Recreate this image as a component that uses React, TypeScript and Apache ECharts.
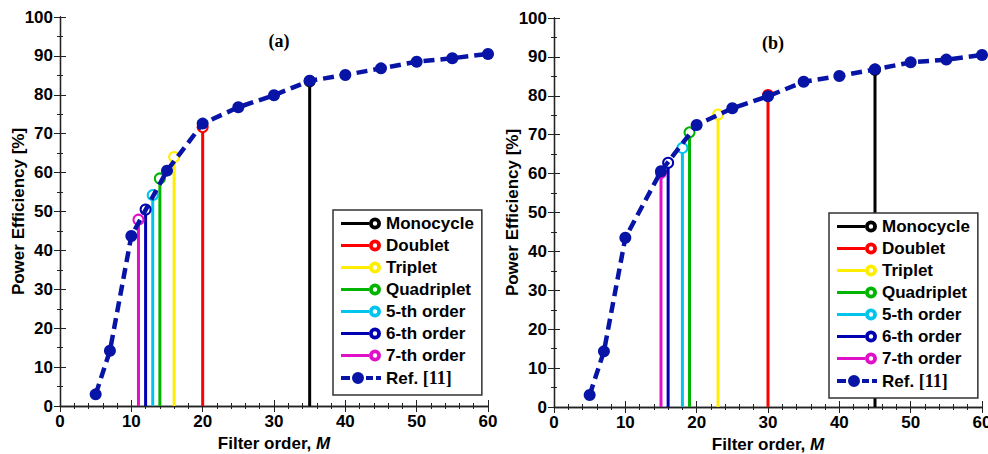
import React, { useEffect, useRef } from "react";
import * as echarts from "echarts";

// ---- data ----
const refOrders = [5, 7, 10, 15, 20, 25, 30, 35, 40, 45, 50, 55, 60];
const refEffA = [3.0, 14.2, 43.7, 60.5, 72.6, 76.8, 79.9, 83.6, 85.1, 86.8, 88.5, 89.4, 90.5];
const refEffB = [3.1, 14.3, 43.5, 60.6, 72.5, 76.8, 79.9, 83.6, 85.1, 86.8, 88.6, 89.3, 90.5];

const pulseNames = ["Monocycle", "Doublet", "Triplet", "Quadriplet", "5-th order", "6-th order", "7-th order"];
const pulseColors = ["#000000", "#ff0000", "#ffee00", "#00b400", "#00c4ec", "#0000b0", "#e010c8"];
const stemOrdersA = [35, 20, 16, 14, 13, 12, 11];
const stemEffA = [83.5, 71.7, 64.0, 58.5, 54.2, 50.5, 47.9];
const stemOrdersB = [45, 30, 23, 19, 18, 16, 15];
const stemEffB = [86.7, 80.2, 75.2, 70.6, 66.6, 62.8, 60.2];

const refName = "Ref. [11]";
const refColor = "#0814a6";
const panelTitles = ["(a)", "(b)"];
const xTicks = { min: 0, max: 60, interval: 10 };
const yTicks = { min: 0, max: 100, interval: 10 };

const SANS = "Liberation Sans, Arial, sans-serif";
const SERIF = "Liberation Serif, Times New Roman, serif";

const stemIcon =
  "path://M0,4.5L28,4.5L28,7.5L0,7.5Z M28,6A6,6,0,1,1,40,6A6,6,0,1,1,28,6Z M31.8,6A2.2,2.2,0,1,0,36.2,6A2.2,2.2,0,1,0,31.8,6Z";
const refIcon =
  "path://M0,4L9,4L9,8L0,8Z M11,6A6,6,0,1,1,23,6A6,6,0,1,1,11,6Z M25,4L32,4L32,8L25,8Z M35,4L40,4L40,8L35,8Z";

function buildOption() {
  const grids = [
    { left: 60, right: 500, top: 17, bottom: 48, outerBoundsMode: "none" },
    { left: 554, right: 6, top: 18, bottom: 47, outerBoundsMode: "none" },
  ];
  const axisLine = { show: true, lineStyle: { color: "#222", width: 1.3 } };
  const tickStyle = { color: "#222", width: 1 };
  const labelStyle = { color: "#000", fontSize: 17, fontWeight: "bold" as const, fontFamily: SANS };

  const xAxis: any[] = [];
  const yAxis: any[] = [];
  grids.forEach((_, g) => {
    xAxis.push({
      gridIndex: g, type: "value", position: "bottom", ...xTicks,
      axisLine, splitLine: { show: false },
      axisTick: { show: true, inside: true, length: 6, lineStyle: tickStyle },
      minorTick: { show: true, splitNumber: 5, length: 3, lineStyle: tickStyle },
      axisLabel: { ...labelStyle, margin: 7 },
      name: "Filter order, {i|M}", nameLocation: "middle", nameGap: 29, nameMoveOverlap: false,
      nameTextStyle: { ...labelStyle, rich: { i: { ...labelStyle, fontStyle: "italic" } } },
    });
    xAxis.push({
      gridIndex: g, type: "value", position: "top", ...xTicks,
      axisLine, splitLine: { show: false },
      axisTick: { show: true, inside: true, length: 6, lineStyle: tickStyle },
      minorTick: { show: true, splitNumber: 5, length: 3, lineStyle: tickStyle },
      axisLabel: { show: false },
    });
    yAxis.push({
      gridIndex: g, type: "value", position: "left", ...yTicks,
      axisLine, splitLine: { show: false },
      axisTick: { show: true, inside: true, length: 6, lineStyle: tickStyle },
      minorTick: { show: true, splitNumber: 2, length: 3, lineStyle: tickStyle },
      axisLabel: { ...labelStyle, margin: 7 },
      name: "Power Efficiency [%]", nameLocation: "middle", nameGap: 33, nameMoveOverlap: false,
      nameTextStyle: { ...labelStyle },
    });
    yAxis.push({
      gridIndex: g, type: "value", position: "right", ...yTicks,
      axisLine, splitLine: { show: false },
      axisTick: { show: true, inside: true, length: 6, lineStyle: tickStyle },
      minorTick: { show: true, splitNumber: 2, length: 3, lineStyle: tickStyle },
      axisLabel: { show: false },
    });
  });

  const series: any[] = [];
  const stems = [
    { orders: stemOrdersA, eff: stemEffA, ref: refEffA },
    { orders: stemOrdersB, eff: stemEffB, ref: refEffB },
  ];
  stems.forEach((p, g) => {
    pulseNames.forEach((name, i) => {
      series.push({
        type: "line", name, xAxisIndex: g * 2, yAxisIndex: g * 2,
        data: [
          { value: [p.orders[i], 0], symbol: "none" },
          { value: [p.orders[i], p.eff[i]] },
        ],
        symbol: "emptyCircle", symbolSize: 10,
        itemStyle: { color: pulseColors[i], borderWidth: 3.5 },
        lineStyle: { color: pulseColors[i], width: 3 },
        z: 2,
      });
    });
    series.push({
      type: "line", name: refName, xAxisIndex: g * 2, yAxisIndex: g * 2,
      data: refOrders.map((m, k) => [m, p.ref[k]]),
      symbol: "circle", symbolSize: 12,
      itemStyle: { color: refColor },
      lineStyle: { color: refColor, width: 4.5, type: [11, 6] },
      z: 3,
    });
  });

  const legendData = [
    ...pulseNames.map((name, i) => ({
      name, icon: stemIcon, itemStyle: { color: pulseColors[i], borderWidth: 0 },
    })),
    { name: refName, icon: refIcon, itemStyle: { color: refColor, borderWidth: 0 } },
  ];
  const legendBase = {
    orient: "vertical", data: legendData,
    itemWidth: 40, itemHeight: 12, itemGap: 5,
    padding: [5, 8, 8, 8],
    backgroundColor: "#fff", borderColor: "#333", borderWidth: 1.5, borderRadius: 0,
    selectedMode: false,
    formatter: (n: string) => (n === refName ? "{s|Ref.} {t|[11]}" : n),
    textStyle: {
      color: "#000", fontSize: 17, fontWeight: "bold", fontFamily: SANS, padding: [0, 0, 0, 0],
      rich: {
        s: { color: "#000", fontSize: 17, fontWeight: "bold", fontFamily: SANS },
        t: { color: "#000", fontSize: 18, fontWeight: "bold", fontFamily: SERIF },
      },
    },
    z: 10,
  };

  return {
    animation: false,
    backgroundColor: "#fff",
    grid: grids,
    xAxis, yAxis, series,
    legend: [
      { ...legendBase, left: 333, top: 210 },
      { ...legendBase, left: 829, top: 213 },
    ],
    title: [
      { text: panelTitles[0], left: 274, top: 27, textAlign: "center",
        textStyle: { fontFamily: SERIF, fontWeight: "bold", fontSize: 18, color: "#000" } },
      { text: panelTitles[1], left: 768, top: 29, textAlign: "center",
        textStyle: { fontFamily: SERIF, fontWeight: "bold", fontSize: 18, color: "#000" } },
    ],
  };
}

export default function App() {
  const ref = useRef<HTMLDivElement>(null);
  useEffect(() => {
    if (!ref.current) return;
    const chart = echarts.init(ref.current, undefined, { renderer: "svg" });
    chart.setOption(buildOption() as any);
    return () => chart.dispose();
  }, []);
  return (
    <div
      ref={ref}
      style={{ position: "fixed", left: 0, top: 0, width: 988, height: 454, background: "#fff" }}
    />
  );
}
